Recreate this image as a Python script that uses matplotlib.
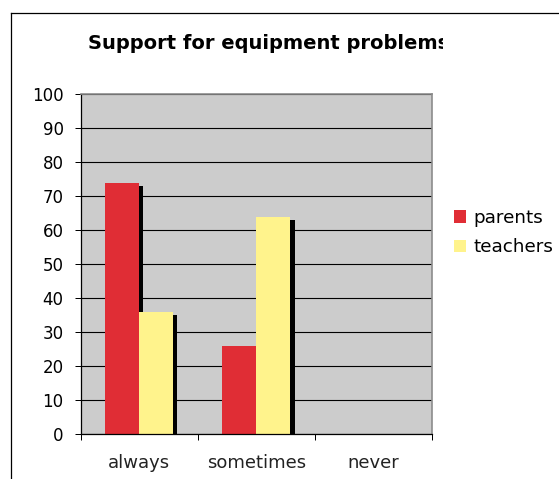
import numpy as np
import matplotlib
matplotlib.use("Agg")
import matplotlib.pyplot as plt
from matplotlib.patches import Patch
from matplotlib.lines import Line2D
from matplotlib.transforms import Bbox

categories = ["always", "sometimes", "never"]
parents = [74, 26, 0]
teachers = [36, 64, 0]
series_names = ["parents", "teachers"]
yticks = list(range(0, 101, 10))

RED = "#E02D35"
YELLOW = "#FFF38C"
PLOT_BG = "#CCCCCC"

W, H = 559, 479
fig = plt.figure(figsize=(W / 100, H / 100), dpi=100)
plt.rcParams["font.family"] = ["DejaVu Sans"]

# outer chart border (extends past the image on right/bottom)
fig.add_artist(Line2D([10.5 / W, 10.5 / W], [1 - 13 / H, -0.1], transform=fig.transFigure, color="black", lw=0.9))
fig.add_artist(Line2D([10.5 / W, 1.1], [1 - 13 / H, 1 - 13 / H], transform=fig.transFigure, color="black", lw=0.9))

left, right, top, bottom = 80.7, 432.0, 94.3, 434.3
ax = fig.add_axes([left / W, 1 - bottom / H, (right - left) / W, (bottom - top) / H])
ax.set_facecolor(PLOT_BG)

x = np.arange(len(categories))
bw = 0.29
sx = 0.036   # shadow offset in category units
sy = 0.9     # shadow offset in data units

p = np.array(parents, dtype=float)
t = np.array(teachers, dtype=float)
# shadows
ax.bar(x - bw / 2 + sx, np.maximum(p - sy, 0), bw, color="black", zorder=1.8)
ax.bar(x + bw / 2 + sx, np.maximum(t - sy, 0), bw, color="black", zorder=1.8)
# bars
ax.bar(x - bw / 2, p, bw, color=RED, zorder=2, label=series_names[0])
ax.bar(x + bw / 2, t, bw, color=YELLOW, zorder=2, label=series_names[1])

ax.set_xlim(-0.5, len(categories) - 0.5)
ax.set_ylim(0, 100)
ax.set_yticks(yticks)
ax.set_yticklabels([str(v) for v in yticks], fontsize=12)
ax.tick_params(axis="y", direction="out", length=4.3, width=0.72, pad=8, colors="black")

ax.set_xticks(np.arange(len(categories) + 1) - 0.5)
ax.set_xticklabels([])
ax.set_xticks(x, minor=True)
ax.set_xticklabels(categories, minor=True, fontsize=13, color="#222222")
ax.tick_params(axis="x", which="major", direction="out", length=4.3, width=0.72)
ax.tick_params(axis="x", which="minor", length=0, pad=14)

ax.set_axisbelow(True)
ax.yaxis.grid(True, color="black", lw=0.8)
for s in ["top", "right"]:
    ax.spines[s].set_color("#8C8C8C")
    ax.spines[s].set_linewidth(1.2)
for s in ["left", "bottom"]:
    ax.spines[s].set_color("black")
    ax.spines[s].set_linewidth(0.9)

# title, clipped on the right as in the original
title = fig.text(88 / W, 1 - 49 / H, "Support for equipment problems", fontsize=14,
                 fontweight="bold", ha="left", va="baseline")
title.set_clip_box(Bbox.from_extents(0, 0, 443, H))
title.set_clip_on(True)

handles = [Patch(facecolor=RED, edgecolor="none"), Patch(facecolor=YELLOW, edgecolor="none")]
fig.legend(handles, series_names, loc="upper left", bbox_to_anchor=(454 / W, 1 - 209 / H),
           bbox_transform=fig.transFigure, frameon=False, borderpad=0, borderaxespad=0,
           handlelength=0.66, handleheight=0.66, handletextpad=0.39, labelspacing=0.62,
           fontsize=13.2)

fig.savefig("out.png", dpi=100)
